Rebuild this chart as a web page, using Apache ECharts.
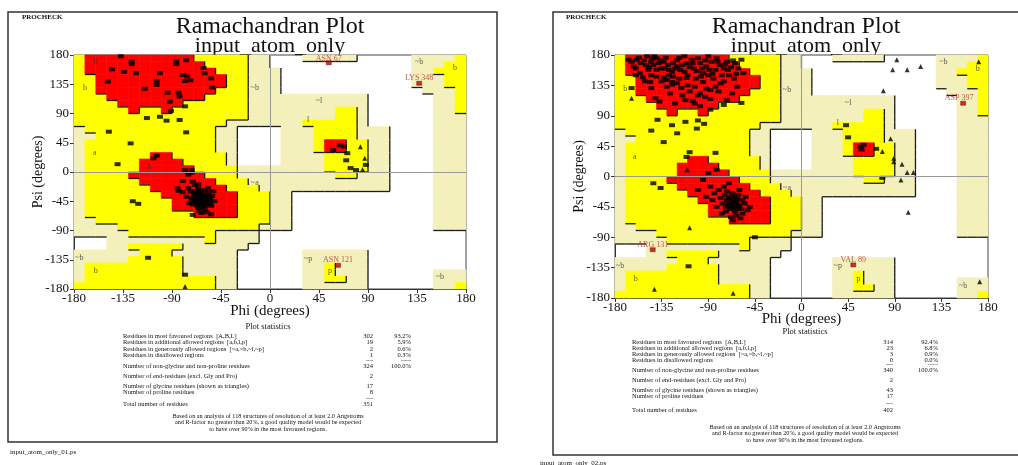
<!DOCTYPE html>
<html>
<head>
<meta charset="utf-8">
<script src="https://cdn.jsdelivr.net/npm/echarts@6/dist/echarts.min.js"></script>
<style>
  html, body { margin: 0; padding: 0; background: #fff; }
  #chart { width: 1018px; height: 465px; }
</style>
</head>
<body>
<div id="chart"></div>
<script>
// Region map, 10 degree cells. Row 0 = psi 170..180, col 0 = phi -180..-170
// R = most favoured, Y = additional allowed, L = generously allowed, . = disallowed
const regionRows = [
  'YRRRRRRRRRRYYYYYLL...LLLLL.....LLLLY',
  'YRRRRRRRRRRRYYYYLL.............LLLYY',
  'YRRRRRRRRRRRRYYYLLL............LLYYY',
  'YYRRRRRRRRRRRRYYLLL............LLLYY',
  'YYRRRRRRRRRRRRYYLLL............LLLYY',
  'YYRRRRRRRRRRRYYYLLL.............LLLY',
  'YYYRRRRRRRRRYYYYLLLLLLLLLLL......LLY',
  'YYYYRRRRRRYYYYYYLLLLLLLLLLL......LLY',
  'YYYYYRYYRYYYYYYYLLLLLLLLYYL......LLY',
  'YYYYYYYYYYYYYYYYLLLLLLLLYYL......LLL',
  'YYYYYYYYYYYYYYLLLLLLLYYYYYL......LLL',
  'LYYYYYYYYYYYYLL....LLLYYYYLLL....LLL',
  'LLYYYYYYYYYYYLL....LLLYYYYLLL....LLL',
  'LYYYYYYYYYYYYLL....LLLYRRYYLL....LLL',
  'LYYYYYYYYYYYYLL....LLLYRRYYLL....LLL',
  'LYYYYYYRRYYYYYL....LLLLYYYYLL....LLL',
  'LYYYYYRRRRYYYYL....LLLLYYYYLL....LLL',
  'LYYYYYRRRRRYYYYLLLLLLLLYYYYLL....LLL',
  'LYYYYRRRRRRRYYYLLLLLLLLLYYLLL....LLL',
  'LYYYYYRRRRRRRYYYLLLLLLLLLLLLL....LLL',
  'LYYYYYYRRRRRRRYYYLLLLLLLLLLLL....LLL',
  'LYYYYYYYRRRRRRRYYYLL.............LLL',
  'LYYYYYYYYRRRRRRYYYLL.............LLL',
  'LYYYYYYYYRRRRRRYYYLL.............LLL',
  'LYYYYYYYYYYRRRRYYYLL.............LLL',
  'LLYYYYYYYYYYYYYYYYLL.............LLL',
  'LLLLYYYYYYYYYYYYYLLL.............LLL',
  'LLLLLYYYYYYYYLLLL...................',
  '...LLLLLLLLLYLLLL...................',
  '...LLYYYYYLLLLLL....................',
  'LLLLLLYYYLLLLLL......LLLLLL.........',
  'LLLLLYYYYYLLLLL......LLLLLL.........',
  'LYYYYYYYYYLLLLL......LLYLLL.........',
  'LYYYYYYYYYLLLLL......LLYLLL......LLL',
  'LYYYYYYYYYYYYLL......LLYYLL......LLL',
  'YYYYYYYYYYYYYLL......LLLLLL......LLY'
];

const regionLetters = [
  ['B', -160, 170], ['b', -170, 130], ['a', -161, 29], ['A', -111, 8],
  ['~b', -14, 129], ['~a', -14, -17], ['~l', 45, 109], ['l', 35, 80],
  ['~b', 137, 170], ['b', 170, 160], ['~p', 35, -133], ['p', 55, -152],
  ['~b', 156, -162], ['~b', -175, -132], ['b', -160, -152]
];

// left plot residues (phi, psi)
const leftSquares = [
  [-137, 178], [-127, 170], [-127, 166], [-145, 158], [-134, 154], [-123, 152], [-149, 139],
  [-115, 128], [-104, 140], [-104, 134], [-101, 152], [-86, 170], [-86, 166], [-77, 172],
  [-80, 149], [-76, 147], [-73, 141], [-78, 140], [-61, 160], [-60, 152], [-54, 144],
  [-53, 130], [-94, 122], [-84, 122], [-83, 116], [-92, 108], [-78, 101], [-91, 94],
  [-113, 83], [-101, 85], [-95, 79], [-83, 80], [-148, 62], [-77, 61], [-128, 44],
  [-140, 12], [-104, 25], [-107, 21], [-78, 3], [-72, 3], [-126, -45], [-121, -49],
  [-85, -25], [-84, -29], [-80, -14], [-75, -4], [-72, -1], [-71, -15], [-69, -20],
  [-66, -25], [-63, -30], [-60, -35], [-57, -25], [-55, -40], [-65, -40], [-68, -45],
  [-62, -45], [-58, -50], [-64, -50], [-70, -35], [-73, -30], [-67, -33], [-61, -38],
  [-59, -42], [-56, -45], [-66, -55], [-60, -57], [-54, -52], [-72, -40], [-75, -25],
  [-69, -29], [-64, -36], [-62, -41], [-58, -36], [-53, -37], [-51, -45], [-67, -48],
  [-71, -50], [-63, -63], [-71, -66], [-54, -65], [-77, -38], [-80, -31], [-74, -48],
  [-66, -19], [-57, -31], [-61, -28], [-52, -30], [-65, -60], [-58, -62],
  [-63, -43], [-60, -39], [-66, -42], [-64, -46], [-61, -49], [-57, -44], [-68, -38],
  [-65, -34], [-62, -36], [-59, -47], [-56, -38], [-70, -43], [-67, -51], [-63, -54],
  [-60, -52], [-58, -40], [-55, -48], [-69, -33], [-72, -46], [-66, -29], [-64, -31],
  [-112, -132], [-78, -158],
  [64, 41], [68, 39], [58, 34], [71, 29], [70, 18], [74, 6], [79, 3], [88, 11]
];
const leftTriangles = [[83, 39], [87, 21], [85, 4], [-78, -176]];
const leftFlagged = [['ASN 67', 54, 168], ['LYS 348', 137, 136.5], ['ASN 121', 62.5, -143.6]];

// right plot residues (phi, psi)
const rightSquares = [
  [-164, 170], [-159, 173], [-149, 178], [-145, 170], [-143, 165], [-140, 175], [-138, 168],
  [-133, 170], [-132, 160], [-129, 165], [-125, 155], [-120, 163], [-117, 158], [-111, 168],
  [-106, 173], [-104, 160], [-100, 175], [-98, 168], [-95, 153], [-92, 163], [-87, 170],
  [-83, 158], [-82, 175], [-79, 165], [-72, 170], [-71, 158], [-64, 168], [-61, 160],
  [-58, 173], [-56, 153], [-140, 148], [-135, 141], [-130, 143], [-125, 136], [-120, 138],
  [-116, 131], [-111, 146], [-108, 126], [-103, 133], [-98, 123], [-93, 118], [-88, 128],
  [-83, 133], [-80, 126], [-75, 141], [-72, 113], [-67, 123], [-62, 133], [-103, 108],
  [-98, 104], [-112, 113], [-127, 123], [-122, 108], [-88, 99], [-75, 106], [-156, 153],
  [-151, 141], [-145, 131], [-148, 158], [-162, 163], [-167, 173], [-141, 116], [-137, 111],
  [-150, 165], [-135, 160], [-128, 150], [-118, 145], [-110, 150], [-102, 145], [-95, 140],
  [-90, 150], [-85, 145], [-78, 138], [-70, 150], [-65, 145], [-110, 135], [-100, 120],
  [-92, 130], [-115, 120], [-125, 140], [-140, 158], [-155, 168], [-145, 150], [-130, 133],
  [-88, 115], [-105, 112], [-96, 160], [-75, 160], [-66, 172], [-120, 172], [-113, 178],
  [-90, 178], [-142, 178],
  [-160, 160], [-157, 176], [-152, 172], [-147, 162], [-144, 175], [-136, 172], [-131, 176],
  [-128, 158], [-124, 168], [-122, 160], [-118, 176], [-115, 165], [-113, 155], [-108, 162],
  [-105, 168], [-101, 156], [-97, 148], [-93, 172], [-89, 158], [-86, 152], [-81, 170],
  [-77, 150], [-74, 166], [-68, 162], [-63, 152], [-160, 150], [-153, 147], [-146, 140],
  [-133, 147], [-124, 148],
  [-70, -40], [-66, -36], [-63, -40], [-68, -30], [-72, -35], [-65, -45], [-60, -42],
  [-62, -33], [-74, -28], [-69, -48], [-58, -48], [-64, -52], [-71, -44], [-67, -25],
  [-61, -27], [-76, -40], [-78, -32], [-73, -52], [-55, -40], [-57, -55], [-63, -58],
  [-68, -60], [-52, -50], [-80, -20], [-75, -15], [-84, -25], [-70, -10], [-86, -35],
  [-60, -20], [-50, -45], [-66, -65], [-59, -62], [-82, -45], [-77, -55], [-72, -22],
  [-65, -30], [-62, -48], [-69, -38], [-73, -45], [-57, -35], [-54, -30], [-88, -15],
  [-95, -5], [-90, 5], [-82, 10], [-100, -20], [-92, -30],
  [-67, -41], [-64, -37], [-61, -44], [-66, -47], [-70, -32], [-63, -35], [-68, -43],
  [-139, 84], [-125, 76], [-112, 81], [-101, 71], [-100, 83], [-94, 78], [-145, 68],
  [-120, 64], [-133, 51], [-108, 36], [-83, 35], [-111, 29], [-58, 109], [-143, -10],
  [-136, -17], [-45, -90], [-164, 131], [-109, -133],
  [43, 76], [45, 58], [57, 44], [60, 47], [58, 40], [72, 41], [78, -2]
];
const rightTriangles = [
  [-164, 116], [92, 173], [88, 158], [102, 158], [115, 163], [79, 127], [86, 56], [78, 37],
  [89, 27], [89, 22], [97, 18], [102, 6], [108, 6], [96, -5], [103, -53], [171, 170],
  [172, -156], [-142, -167], [-66, -173], [-108, -76], [-110, 10]
];
const rightFlagged = [['ARG 131', -143.6, -108.5], ['VAL 89', 50, -131], ['ASP 397', 156, 108.5]];

const statLabels = [
  'Residues in most favoured regions  [A,B,L]',
  'Residues in additional allowed regions  [a,b,l,p]',
  'Residues in generously allowed regions  [~a,~b,~l,~p]',
  'Residues in disallowed regions',
  'Number of non-glycine and non-proline residues',
  'Number of end-residues (excl. Gly and Pro)',
  'Number of glycine residues (shown as triangles)',
  'Number of proline residues',
  'Total number of residues'
];
const leftCounts = ['302', '19', '2', '1', '324', '2', '17', '8', '351'];
const leftPercents = ['93.2%', '5.9%', '0.6%', '0.3%', '100.0%'];
const rightCounts = ['314', '23', '3', '0', '340', '2', '43', '17', '402'];
const rightPercents = ['92.4%', '6.8%', '0.9%', '0.0%', '100.0%'];
const footnote = [
  'Based on an analysis of 118 structures of resolution of at least 2.0 Angstroms',
  'and R-factor no greater than 20%, a good quality model would be expected',
  'to have over 90% in the most favoured regions.'
];

const serif = '"Liberation Serif", "DejaVu Serif", serif';
const regionColors = ['#ffffff', '#f3f0bb', '#ffff00', '#ff0000'];

function cellClass(r, c) {
  if (r < 0 || r > 35 || c < 0 || c > 35) return -1;
  return 'LYR'.indexOf(regionRows[r][c]) + 1;
}

const regionCells = [];
const regionEdges = [];
regionRows.forEach((row, r) => {
  for (let c = 0; c < 36; c++) {
    const k = cellClass(r, c);
    if (k <= 0) continue;
    const phi = -180 + c * 10;
    const psi = 170 - r * 10;
    regionCells.push([phi, psi, k]);
    if (c < 35 && cellClass(r, c + 1) < k) regionEdges.push([phi + 10, psi, 0]);
    if (r < 35 && cellClass(r + 1, c) < k) regionEdges.push([phi, psi, 1]);
  }
});

function cellItem(params, api) {
  const a = api.coord([api.value(0), api.value(1) + 10]);
  const b = api.coord([api.value(0) + 10, api.value(1)]);
  const col = regionColors[api.value(2)];
  return {
    type: 'rect',
    shape: { x: a[0], y: a[1], width: b[0] - a[0], height: b[1] - a[1] },
    style: { fill: col, stroke: col, lineWidth: 0.6 }
  };
}

function edgeItem(params, api) {
  const x = api.value(0), y = api.value(1);
  const a = api.coord([x, y]);
  const b = api.value(2) === 0 ? api.coord([x, y + 10]) : api.coord([x + 10, y]);
  return {
    type: 'line',
    shape: { x1: a[0], y1: a[1], x2: b[0], y2: b[1] },
    style: { stroke: '#1a1a1a', lineWidth: 1.3 }
  };
}

const labelOffsets = {
  'ASN 67': [0, 3], 'LYS 348': [0, 2], 'ASN 121': [0, 2],
  'ARG 131': [0, 2], 'VAL 89': [0, 2], 'ASP 397': [-4, 2]
};

function plotSeries(g, squares, triangles, flagged) {
  const axes = { xAxisIndex: g, yAxisIndex: g };
  return [
    Object.assign({ type: 'custom', renderItem: cellItem, data: regionCells, silent: true, z: 1 }, axes),
    Object.assign({ type: 'custom', renderItem: edgeItem, data: regionEdges, silent: true, z: 2 }, axes),
    Object.assign({
      type: 'scatter', data: squares, symbol: 'rect', symbolSize: [6, 4],
      itemStyle: { color: '#000' }, z: 4,
      markLine: {
        silent: true, symbol: 'none', label: { show: false },
        lineStyle: { color: '#9a9a9a', width: 1, type: 'solid' },
        data: [{ xAxis: 0 }, { yAxis: 0 }]
      }
    }, axes),
    Object.assign({
      type: 'scatter', data: triangles, symbol: 'triangle', symbolSize: 5,
      itemStyle: { color: '#000' }, z: 4
    }, axes),
    Object.assign({
      type: 'scatter', symbolSize: 0, z: 3,
      data: regionLetters.map(d => ({ name: d[0], value: [d[1], d[2]] })),
      label: {
        show: true, position: 'inside', formatter: '{b}',
        fontFamily: serif, fontSize: 8, color: '#333'
      }
    }, axes),
    Object.assign({
      type: 'scatter', symbol: 'rect', symbolSize: [5, 4], z: 5,
      itemStyle: { color: '#c00000', borderColor: '#400', borderWidth: 0.5 },
      data: flagged.map(d => ({
        name: d[0], value: [d[1], d[2]],
        label: { offset: labelOffsets[d[0]] }
      })),
      label: {
        show: true, position: 'top', distance: 1, formatter: '{b}',
        fontFamily: serif, fontSize: 8, color: '#b0302a'
      }
    }, axes)
  ];
}

function makeX(g, nameGap) {
  return {
    gridIndex: g, type: 'value', min: -180, max: 180, interval: 45,
    axisLine: { show: true, onZero: false, lineStyle: { color: '#333' } },
    axisTick: { show: true, length: 4, lineStyle: { color: '#333' } },
    axisLabel: { fontFamily: serif, fontSize: 13, color: '#111', margin: 3 },
    splitLine: { show: false },
    name: 'Phi (degrees)', nameLocation: 'middle', nameGap: nameGap, nameMoveOverlap: false,
    nameTextStyle: { fontFamily: serif, fontSize: 15, color: '#111' }
  };
}
function makeY(g, nameGap) {
  return {
    gridIndex: g, type: 'value', min: -180, max: 180, interval: 45,
    axisLine: { show: true, onZero: false, lineStyle: { color: '#333' } },
    axisTick: { show: true, length: 4, lineStyle: { color: '#333' } },
    axisLabel: { fontFamily: serif, fontSize: 13, color: '#111', margin: 5 },
    splitLine: { show: false },
    name: 'Psi (degrees)', nameLocation: 'middle', nameGap: nameGap, nameMoveOverlap: false,
    nameTextStyle: { fontFamily: serif, fontSize: 14, color: '#111' }
  };
}

function txt(x, y, text, size, align, weight) {
  return {
    type: 'text', x: x, y: y, silent: true,
    style: {
      text: text, font: (weight || '') + ' ' + size + 'px ' + serif, fill: '#111',
      textAlign: align || 'left', textVerticalAlign: 'middle',
      align: align || 'left', verticalAlign: 'middle'
    }
  };
}

function panelText(px, cx, numX, pctX, rowsY, dashY, plotY, noteY, counts, pcts) {
  const items = [];
  items.push(txt(cx, plotY, 'Plot statistics', 8.5, 'center'));
  statLabels.forEach((s, i) => {
    items.push(txt(px, rowsY[i], s, 6.5, 'left'));
    items.push(txt(numX, rowsY[i], counts[i], 6.5, 'right'));
    if (i < pcts.length) items.push(txt(pctX, rowsY[i], pcts[i], 6.5, 'right'));
  });
  items.push(txt(numX, dashY[0], '----', 5, 'right'));
  items.push(txt(pctX, dashY[0], '------', 5, 'right'));
  items.push(txt(numX, dashY[1], '----', 5, 'right'));
  footnote.forEach((s, i) => items.push(txt(cx, noteY[i], s, 6.2, 'center')));
  return items;
}

const chart = echarts.init(document.getElementById('chart'));
chart.setOption({
  animation: false,
  backgroundColor: '#fff',
  grid: [
    { left: 74, top: 55, width: 392, height: 234, show: true, borderColor: '#444', borderWidth: 1 },
    { left: 615, top: 55, width: 373, height: 243, show: true, borderColor: '#444', borderWidth: 1 }
  ],
  xAxis: [makeX(0, 15), makeX(1, 14)],
  yAxis: [makeY(0, 29), makeY(1, 29)],
  series: plotSeries(0, leftSquares, leftTriangles, leftFlagged)
    .concat(plotSeries(1, rightSquares, rightTriangles, rightFlagged)),
  graphic: [
    { type: 'rect', silent: true, shape: { x: 8, y: 12, width: 489, height: 430 },
      style: { fill: 'none', stroke: '#333', lineWidth: 1.5 } },
    { type: 'rect', silent: true, shape: { x: 553, y: 12, width: 470, height: 443 },
      style: { fill: 'none', stroke: '#333', lineWidth: 1.5 } },
    txt(22, 17, 'PROCHECK', 7, 'left', 'bold'),
    txt(566, 17, 'PROCHECK', 7, 'left', 'bold'),
    txt(270, 27, 'Ramachandran Plot', 24, 'center'),
    txt(270, 46, 'input_atom_only', 22, 'center'),
    txt(806, 27, 'Ramachandran Plot', 24, 'center'),
    txt(806, 46, 'input_atom_only', 22, 'center'),
    txt(10, 452, 'input_atom_only_01.ps', 7, 'left'),
    txt(540, 463, 'input_atom_only_02.ps', 7, 'left')
  ].concat(
    panelText(123, 268, 373, 411,
      [336, 342.5, 349, 355.5, 366, 376, 386.5, 392.5, 404], [360.5, 398.5],
      327, [416, 422.5, 429], leftCounts, leftPercents),
    panelText(632, 805, 893, 938,
      [342, 348, 354, 360, 370.5, 380.5, 390.5, 396.5, 410], [365, 403.5],
      332, [427, 433.5, 440], rightCounts, rightPercents)
  )
});
</script>
</body>
</html>
